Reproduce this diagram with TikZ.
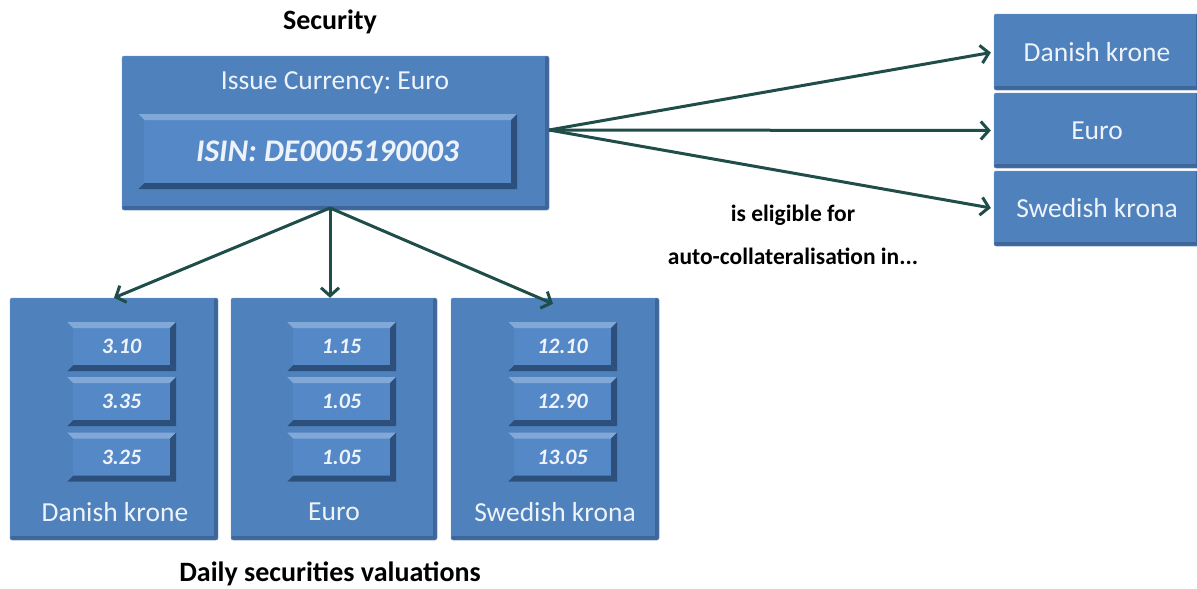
\documentclass[tikz,border=0pt]{standalone}
\usepackage{fontspec}
\setmainfont{Carlito}
\usepackage{tikz}
\usepackage{xcolor}
\usetikzlibrary{arrows.meta,positioning}
\frenchspacing
\definecolor{boxblue}{HTML}{4F81BD}
\definecolor{boxedge}{HTML}{7199CB}
\definecolor{boxdark}{HTML}{3E6698}
\definecolor{bevelblue}{HTML}{5588C6}
\definecolor{bevellight}{HTML}{82A8D8}
\definecolor{beveldark}{HTML}{2D4F7C}
\definecolor{linkgreen}{HTML}{1F4D49}
\definecolor{lighttext}{HTML}{EEF3FA}
\tikzset{
    blue-box/.style = {draw=boxedge, fill=boxblue, thin, rectangle, rounded corners=2pt, inner sep=0pt,
        path picture={
            \fill[boxdark] ([xshift=-4pt]path picture bounding box.north east) rectangle (path picture bounding box.south east);
            \fill[boxdark] ([yshift=4pt]path picture bounding box.south west) rectangle (path picture bounding box.south east);
        }},
    bevel-box/.style = {fill=bevelblue, rectangle, inner sep=0pt, text=lighttext, font=\fontsize{22}{26}\selectfont\bfseries\itshape,
        path picture={
            \fill[bevellight] (path picture bounding box.north west) -- (path picture bounding box.north east)
                -- ([shift={(-6pt,-6pt)}]path picture bounding box.north east) -- ([shift={(6pt,-6pt)}]path picture bounding box.north west) -- cycle;
            \fill[beveldark] (path picture bounding box.south west) -- (path picture bounding box.south east)
                -- ([shift={(-6pt,6pt)}]path picture bounding box.south east) -- ([shift={(6pt,6pt)}]path picture bounding box.south west) -- cycle;
            \fill[beveldark] (path picture bounding box.north east) -- (path picture bounding box.south east)
                -- ([shift={(-6pt,6pt)}]path picture bounding box.south east) -- ([shift={(-6pt,-6pt)}]path picture bounding box.north east) -- cycle;
            \fill[boxblue] (path picture bounding box.north west) -- (path picture bounding box.south west)
                -- ([shift={(6pt,6pt)}]path picture bounding box.south west) -- ([shift={(6pt,-6pt)}]path picture bounding box.north west) -- cycle;
        }},
    box-text/.style = {text=lighttext, font=\fontsize{27.5}{32}\selectfont},
    caption-text/.style = {text=black, inner sep=1pt, font=\fontsize{28}{33}\selectfont\bfseries},
    arrow-link/.style = {draw=linkgreen, line width=3pt, -{Straight Barb[length=8pt,width=18pt,line width=3pt]}},
}

\begin{document}
\begin{tikzpicture}[x=1pt, y=-1pt]
\useasboundingbox (0,0) rectangle (1197,589);

% security with its issue currency
\node[caption-text] (security) at (330,22) {Security};
\node[blue-box, minimum width=427pt, minimum height=154pt] (issue) at (335.5,133) {};
\node[box-text] (issue-title) at (335,83) {Issue Currency: Euro};
\node[bevel-box, minimum width=379pt, minimum height=75pt, font=\fontsize{31.5}{36}\selectfont\bfseries\itshape] (isin) at (327.5,151.5) {ISIN: DE0005190003};

% currencies for auto-collateralisation
\node[blue-box, minimum width=206pt, minimum height=76pt] (right-dk) at (1097,52) {};
\node[box-text] at (right-dk) {Danish krone};
\node[blue-box, minimum width=206pt, minimum height=75pt] (right-eu) at (1097,130.5) {};
\node[box-text] at (right-eu) {Euro};
\node[blue-box, minimum width=206pt, minimum height=75pt] (right-sk) at (1097,208.5) {};
\node[box-text] at (right-sk) {Swedish krona};

\node[caption-text, font=\fontsize{23.5}{28}\selectfont\bfseries] (eligible) at (793,215) {is eligible for};
\node[caption-text, font=\fontsize{23.5}{28}\selectfont\bfseries] (auto) at (793,256) {auto-collateralisation in...};

% daily valuations per currency
\node[blue-box, minimum width=208pt, minimum height=242pt] (dk) at (114,419) {};
\node[bevel-box, minimum width=109pt, minimum height=49pt] (dk-1) at (121.5,346.5) {3.10};
\node[bevel-box, minimum width=109pt, minimum height=49pt] (dk-2) at (121.5,401.5) {3.35};
\node[bevel-box, minimum width=109pt, minimum height=49pt] (dk-3) at (121.5,457) {3.25};
\node[box-text] (dk-name) at (115,512) {Danish krone};

\node[blue-box, minimum width=206pt, minimum height=242pt] (eu) at (334,419) {};
\node[bevel-box, minimum width=109pt, minimum height=49pt] (eu-1) at (341.5,346.5) {1.15};
\node[bevel-box, minimum width=109pt, minimum height=49pt] (eu-2) at (341.5,401.5) {1.05};
\node[bevel-box, minimum width=109pt, minimum height=49pt] (eu-3) at (341.5,457) {1.05};
\node[box-text] (eu-name) at (334,512) {Euro};

\node[blue-box, minimum width=208pt, minimum height=242pt] (sk) at (555,419) {};
\node[bevel-box, minimum width=109pt, minimum height=49pt] (sk-1) at (562.5,346.5) {12.10};
\node[bevel-box, minimum width=109pt, minimum height=49pt] (sk-2) at (562.5,401.5) {12.90};
\node[bevel-box, minimum width=109pt, minimum height=49pt] (sk-3) at (562.5,457) {13.05};
\node[box-text] (sk-name) at (555,512) {Swedish krona};

\node[caption-text] (valuations) at (330,574) {Daily securities valuations};

% arrows
\coordinate (fork) at (330,208);
\coordinate (hub) at (549,130);
\draw[arrow-link] (fork) -- (dk.north);
\draw[arrow-link] (fork) -- (fork |- eu.north);
\draw[arrow-link] (fork) -- ([xshift=-2pt, yshift=-6pt]sk.north);
\draw[arrow-link, shorten >=3pt] (hub) -- (right-dk.west);
\draw[arrow-link, shorten >=3pt] (hub) -- (right-eu.west);
\draw[arrow-link, shorten >=3pt] (hub) -- (right-sk.west);
\end{tikzpicture}
\end{document}
